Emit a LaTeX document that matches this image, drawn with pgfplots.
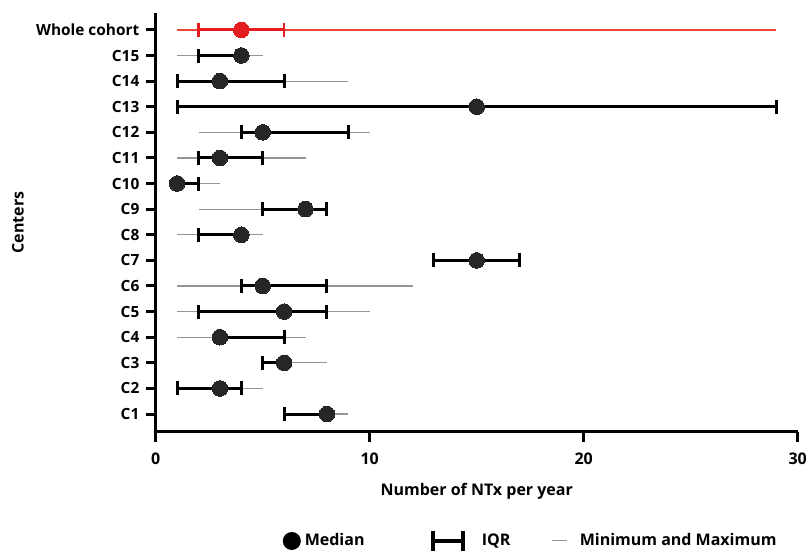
\documentclass[border=0pt]{standalone}
\usepackage{fontspec}
\setmainfont{Open Sans}
\usepackage{pgfplots}
\usepackage{pgfplotstable}
\pgfplotsset{compat=1.18}
\definecolor{dotgray}{RGB}{38,38,38}
\definecolor{thingray}{RGB}{150,150,150}
\definecolor{redA}{RGB}{228,30,32}
\definecolor{redB}{RGB}{238,70,55}
% y  min q1 med q3 max
\pgfplotstableread{
y min q1 med q3 max
1 6 6 8 8 9
2 1 1 3 4 5
3 5 5 6 6 8
4 1 3 3 6 7
5 1 2 6 8 10
6 1 4 5 8 12
7 13 13 15 17 17
8 1 2 4 4 5
9 2 5 7 8 8
10 1 1 1 2 3
11 1 2 3 5 7
12 2 4 5 9 10
13 1 1 15 29 29
14 1 1 3 6 9
15 1 2 4 4 5
}\centers
\pgfplotstableread{
y min q1 med q3 max
16 1 2 4 6 29
}\whole
\begin{document}
\begin{tikzpicture}
\path[use as bounding box] (-77.85pt,-59.65pt) rectangle (325.15pt,215.85pt);
\begin{axis}[
  at={(0,0)}, anchor=south west,
  scale only axis, width=321pt, height=209.35pt,
  font=\fontsize{8}{10}\selectfont\bfseries,
  /pgf/number format/assume math mode=true,
  xmin=0, xmax=30, ymin=0.31, ymax=16.66,
  axis lines=left,
  axis line style={-, line width=1.5pt, black},
  tick align=outside,
  major tick length=5pt,
  tick style={line width=1.5pt, black},
  xtick={0,10,20,30},
  ytick={1,...,16},
  yticklabels={C1,C2,C3,C4,C5,C6,C7,C8,C9,C10,C11,C12,C13,C14,C15,Whole cohort},
  yticklabel style={inner sep=1pt, xshift=-2pt, font=\fontsize{7.7}{10}\selectfont\bfseries},
  xticklabel style={yshift=-2pt},
  xlabel={Number of NTx per year},
  ylabel={Centers},
  xlabel style={at={(axis description cs:0.5,-0.1415)}, anchor=center},
  ylabel style={at={(axis description cs:-0.2145,0.5)}, anchor=center},
  clip=false,
  legend columns=3,
  legend style={at={(0.198,-0.261)}, anchor=west, draw=none, fill=none,
    inner sep=0pt, outer sep=0pt,
    nodes={inner xsep=0pt, inner ysep=1pt},
    /tikz/every even column/.append style={column sep=0pt},
    /tikz/every odd column/.append style={column sep=0pt},
    font=\fontsize{8}{10}\selectfont\bfseries},
]
% legend entries
\addlegendimage{legend image code/.code={
  \path[draw=none, fill=none] (0,-5pt) rectangle (11pt,5pt);
  \fill[black, draw=none] (4.5pt,0) circle (4.5pt);}}
\addlegendentry{\makebox[31pt][l]{Median}}
\addlegendimage{legend image code/.code={
  \path[draw=none, fill=none] (0,-5pt) rectangle (57.5pt,5pt);
  \draw[line width=2pt, black] (33pt,0) -- (48pt,0);
  \draw[line width=2pt, black] (33pt,-5pt) -- (33pt,5pt);
  \draw[line width=2pt, black] (48pt,-5pt) -- (48pt,5pt);}}
\addlegendentry{\makebox[14pt][l]{IQR}}
\addlegendimage{legend image code/.code={
  \path[draw=none, fill=none] (0,-5pt) rectangle (35pt,5pt);
  \draw[line width=0.5pt, thingray] (21pt,0) -- (28.5pt,0);}}
\addlegendentry{Minimum and Maximum}
% centers: min-max
\addplot[forget plot, thingray, only marks, mark=none,
  error bars/.cd, x dir=both, x explicit, error mark=none,
  error bar style={line width=0.6pt, draw=thingray}]
  table[x=med, y=y, x error plus expr=\thisrow{max}-\thisrow{med}, x error minus expr=\thisrow{med}-\thisrow{min}] {\centers};
% centers: IQR
\addplot[forget plot, black, only marks, mark=none,
  error bars/.cd, x dir=both, x explicit, error mark=|,
  error bar style={line width=1.5pt, draw=black},
  error mark options={line width=1.5pt, draw=black, mark size=3.5pt}]
  table[x=med, y=y, x error plus expr=\thisrow{q3}-\thisrow{med}, x error minus expr=\thisrow{med}-\thisrow{q1}] {\centers};
% centers: median
\addplot[forget plot, only marks, mark=*, mark size=3.9pt,
  mark options={draw=dotgray, fill=dotgray, line width=0pt}]
  table[x=med, y=y] {\centers};
% whole cohort
\addplot[forget plot, color=redB, only marks, mark=none,
  error bars/.cd, x dir=both, x explicit, error mark=none,
  error bar style={line width=0.8pt, color=redB}]
  table[x=med, y=y, x error plus expr=\thisrow{max}-\thisrow{med}, x error minus expr=\thisrow{med}-\thisrow{min}] {\whole};
\addplot[forget plot, redA, only marks, mark=none,
  error bars/.cd, x dir=both, x explicit, error mark=|,
  error bar style={line width=1.5pt, draw=redA},
  error mark options={line width=1.2pt, draw=redA, mark size=3.5pt}]
  table[x=med, y=y, x error plus expr=\thisrow{q3}-\thisrow{med}, x error minus expr=\thisrow{med}-\thisrow{q1}] {\whole};
\addplot[forget plot, only marks, mark=*, mark size=3.9pt,
  mark options={draw=redA, fill=redA, line width=0pt}]
  table[x=med, y=y] {\whole};
\end{axis}
\end{tikzpicture}
\end{document}
